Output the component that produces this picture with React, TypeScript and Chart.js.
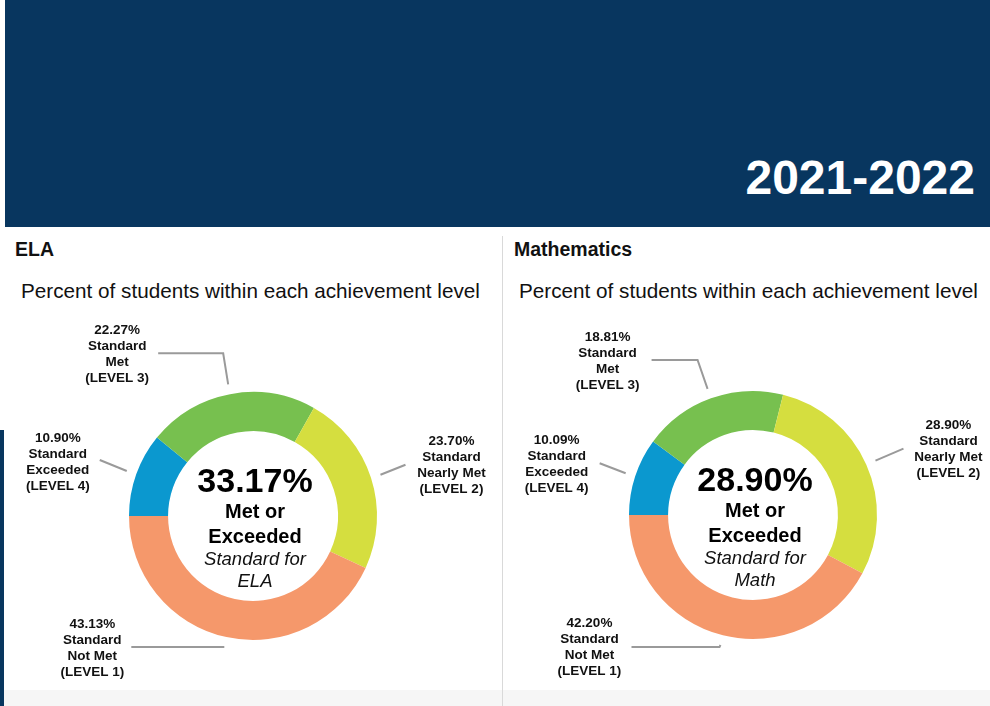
import React, { useEffect, useRef } from "react";
import { Chart, registerables } from "chart.js";

Chart.register(...registerables);

// ---------- data ----------
const levelNames = ["Exceeded", "Met", "Nearly Met", "Not Met"];
const levelNumbers = [4, 3, 2, 1];
const elaValues = [10.9, 22.27, 23.7, 43.13];
const mathValues = [10.09, 18.81, 28.9, 42.2];
const levelColors = ["#0b98cf", "#77c04f", "#d5de3f", "#f5986b"];

const headerYear = "2021-2022";
const subtitleText = "Percent of students within each achievement level";

const FONT = '"Liberation Sans", Arial, Helvetica, sans-serif';
const NAVY = "#08365f";

type LabelLayout = { line: number[][]; text: number[] };

const elaLabelLayout: LabelLayout[] = [
  { line: [[0, 0], [-27, -11]], text: [-69, -33] },
  { line: [[0, 0], [-5, -31], [-70, -31]], text: [-111, -54] },
  { line: [[0, 0], [25, -10]], text: [71, -33] },
  { line: [[0, 0], [-93, 0]], text: [-132, -23] },
];
const mathLabelLayout: LabelLayout[] = [
  { line: [[0, 0], [-26, -10]], text: [-69, -33] },
  { line: [[0, 0], [-10, -29], [-56, -29]], text: [-100, -52] },
  { line: [[0, 0], [28, -12]], text: [73, -35] },
  { line: [[0, 0], [-1, 2], [-89, 2]], text: [-131, -22] },
];

function makeAnnotPlugin(layout: LabelLayout[], subject: string) {
  return {
    id: "annot",
    afterDatasetsDraw(chart: any) {
      const ctx = chart.ctx as CanvasRenderingContext2D;
      const meta = chart.getDatasetMeta(0);
      const data = chart.data.datasets[0].data as number[];
      let cx = 0;
      let cy = 0;
      ctx.save();
      meta.data.forEach((arc: any, i: number) => {
        const p = arc.getProps(["x", "y", "startAngle", "endAngle", "outerRadius"], true);
        cx = p.x;
        cy = p.y;
        const mid = (p.startAngle + p.endAngle) / 2;
        const ax = p.x + Math.cos(mid) * (p.outerRadius + 10);
        const ay = p.y + Math.sin(mid) * (p.outerRadius + 10);
        const lab = layout[i];
        ctx.strokeStyle = "#9a9a9a";
        ctx.lineWidth = 2;
        ctx.lineJoin = "miter";
        ctx.beginPath();
        lab.line.forEach(([dx, dy], k) => {
          if (k === 0) ctx.moveTo(ax + dx, ay + dy);
          else ctx.lineTo(ax + dx, ay + dy);
        });
        ctx.stroke();
        const lines = [
          `${data[i].toFixed(2)}%`,
          "Standard",
          levelNames[i],
          `(LEVEL ${levelNumbers[i]})`,
        ];
        ctx.fillStyle = "#111";
        ctx.font = `bold 13.5px ${FONT}`;
        ctx.textAlign = "center";
        ctx.textBaseline = "middle";
        lines.forEach((t, k) => ctx.fillText(t, ax + lab.text[0], ay + lab.text[1] + k * 16));
      });
      // center text
      const metOrExceeded = data[0] + data[1];
      const tx = cx + 2;
      ctx.fillStyle = "#000";
      ctx.textAlign = "center";
      ctx.textBaseline = "alphabetic";
      ctx.font = `bold 34px ${FONT}`;
      ctx.fillText(`${metOrExceeded.toFixed(2)}%`, tx, cy - 24);
      ctx.font = `bold 20px ${FONT}`;
      ctx.fillText("Met or", tx, cy + 2);
      ctx.fillText("Exceeded", tx, cy + 27);
      ctx.font = `italic 18.5px ${FONT}`;
      ctx.fillStyle = "#111";
      ctx.fillText("Standard for", tx, cy + 49);
      ctx.fillText(subject, tx, cy + 71);
      ctx.restore();
    },
  };
}

type PanelProps = {
  left: number;
  width: number;
  title: string;
  subject: string;
  values: number[];
  layout: LabelLayout[];
  cx: number;
  cy: number;
};

const CANVAS_TOP = 300;
const CANVAS_H = 390;
const RADIUS = 124;

function Panel({ left, width, title, subject, values, layout, cx, cy }: PanelProps) {
  const ref = useRef<HTMLCanvasElement | null>(null);
  useEffect(() => {
    if (!ref.current) return;
    const localCy = cy - CANVAS_TOP;
    const chart = new Chart(ref.current, {
      type: "doughnut",
      data: {
        labels: levelNames,
        datasets: [
          {
            data: values,
            backgroundColor: levelColors,
            borderWidth: 0,
            hoverOffset: 0,
          },
        ],
      },
      options: {
        responsive: false,
        animation: false,
        events: [],
        rotation: -90,
        cutout: "68.5%",
        layout: {
          padding: {
            left: cx - RADIUS,
            right: width - cx - RADIUS,
            top: localCy - RADIUS,
            bottom: CANVAS_H - localCy - RADIUS,
          },
        },
        plugins: {
          legend: { display: false },
          tooltip: { enabled: false },
        },
      },
      plugins: [makeAnnotPlugin(layout, subject)],
    } as any);
    return () => chart.destroy();
  }, []);

  return (
    <>
      <div
        style={{
          position: "absolute",
          left: left + (title === "ELA" ? 15 : 11),
          top: 240,
          font: `bold 19.5px ${FONT}`,
          lineHeight: "19.5px",
          color: "#111",
          whiteSpace: "nowrap",
        }}
      >
        {title}
      </div>
      <div
        style={{
          position: "absolute",
          left: left + (title === "ELA" ? 21 : 16),
          top: 281,
          font: `20.7px ${FONT}`,
          lineHeight: "20.7px",
          color: "#111",
          whiteSpace: "nowrap",
        }}
      >
        {subtitleText}
      </div>
      <canvas
        ref={ref}
        width={width}
        height={CANVAS_H}
        style={{ position: "absolute", left, top: CANVAS_TOP, width, height: CANVAS_H }}
      />
    </>
  );
}

export default function App() {
  return (
    <div
      style={{
        position: "absolute",
        left: 0,
        top: 0,
        width: 990,
        height: 706,
        background: "#ffffff",
        overflow: "hidden",
        fontFamily: FONT,
      }}
    >
      <div style={{ position: "absolute", left: 5, top: 0, width: 985, height: 227, background: NAVY }} />
      <div
        style={{
          position: "absolute",
          right: 15,
          top: 154,
          font: `bold 48px ${FONT}`,
          lineHeight: "48px",
          color: "#ffffff",
          whiteSpace: "nowrap",
        }}
      >
        {headerYear}
      </div>
      <div style={{ position: "absolute", left: 0, top: 690, width: 990, height: 16, background: "#f6f6f6" }} />
      <div style={{ position: "absolute", left: 0, top: 430, width: 4, height: 276, background: NAVY }} />
      <div style={{ position: "absolute", left: 502, top: 236, width: 1, height: 470, background: "#d9d9d9" }} />
      <Panel
        left={0}
        width={502}
        title="ELA"
        subject="ELA"
        values={elaValues}
        layout={elaLabelLayout}
        cx={253}
        cy={516}
      />
      <Panel
        left={503}
        width={487}
        title="Mathematics"
        subject="Math"
        values={mathValues}
        layout={mathLabelLayout}
        cx={250}
        cy={515}
      />
    </div>
  );
}
